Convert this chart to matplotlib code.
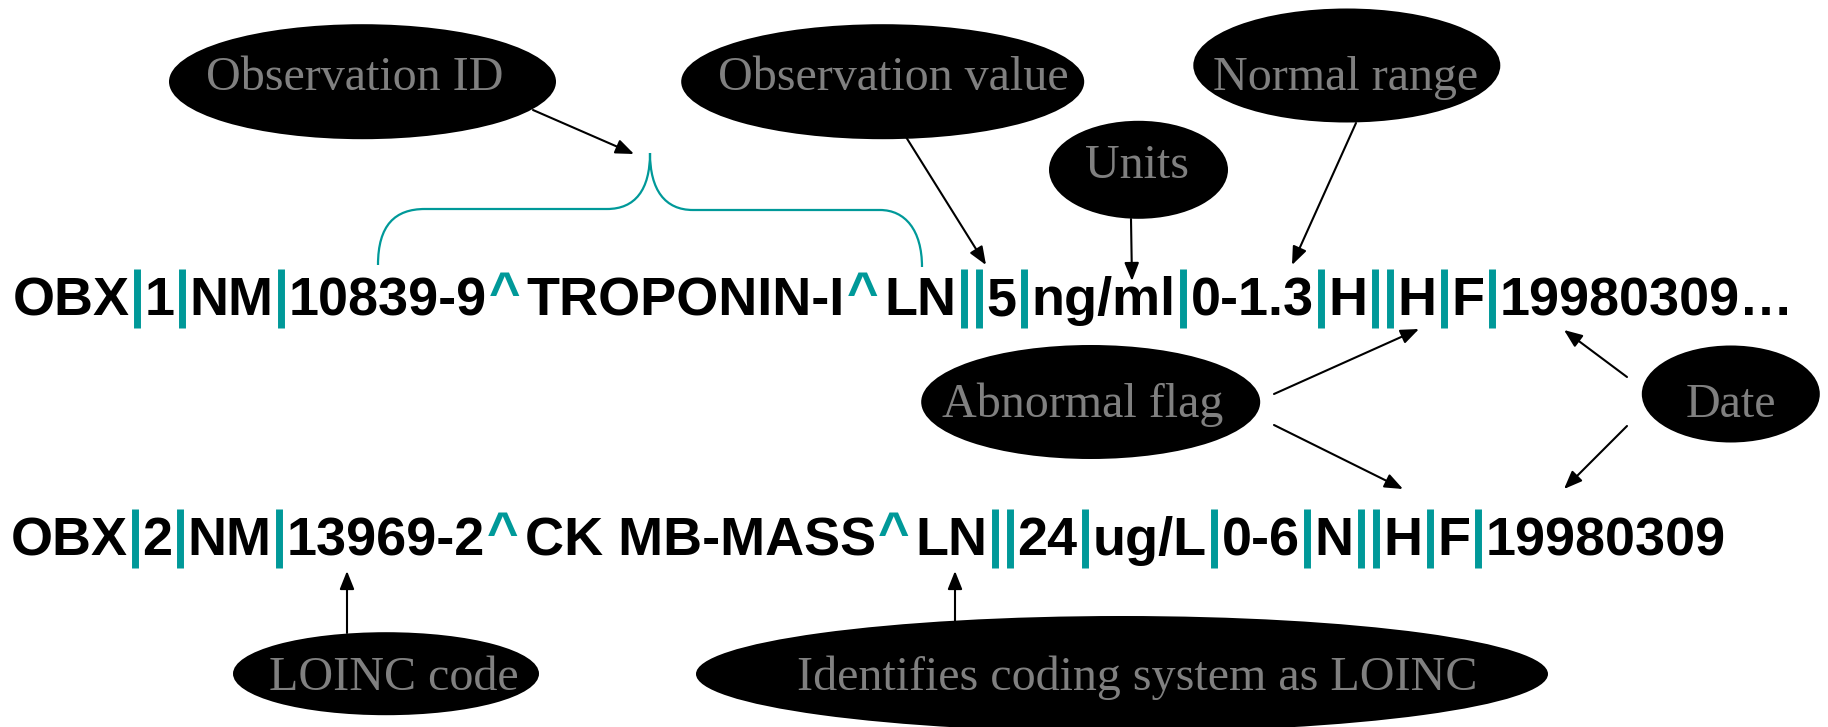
import matplotlib
matplotlib.use('Agg')
import matplotlib.pyplot as plt
from matplotlib.patches import Ellipse, PathPatch
from matplotlib.path import Path
from matplotlib.font_manager import FontProperties, findfont
from matplotlib.ft2font import FT2Font

# the two HL7 OBX segments
rows = [
    'OBX|1|NM|10839-9^TROPONIN-I^LN||5|ng/ml|0-1.3|H||H|F|19980309\u2026',
    'OBX|2|NM|13969-2^CK MB-MASS^LN||24|ug/L|0-6|N||H|F|19980309',
]
row_x = [12.7, 10.4]
row_base = [315, 555]

# callout bubbles
labels = ['Observation ID', 'Observation value', 'Normal range', 'Units',
          'Abnormal flag', 'Date', 'LOINC code', 'Identifies coding system as LOINC']
bubble_xy = [(362.5, 81.7), (882.7, 81.7), (1346.8, 65.5), (1138.5, 169.8),
             (1090.7, 402), (1730.8, 394), (386, 673.7), (1122, 674)]
bubble_wh = [(387, 115), (403, 115), (307, 114), (179, 98),
             (339, 114), (178, 97), (306, 83), (852, 116)]
label_xy = [(354.4, 90), (893.3, 90), (1346, 90), (1137.3, 178.3),
            (1083, 416.7), (1730.5, 416.7), (393.8, 690), (1137.4, 690)]

# arrows: tail -> head
arrow_from = [(533, 110), (906, 137), (1131, 219), (1356, 123), (1274, 394),
              (1274, 425), (1627, 377), (1627, 426), (347, 633), (955, 621)]
arrow_to = [(634, 154), (986, 265), (1132, 281), (1292, 265), (1419, 329),
            (1403, 489), (1564, 330), (1564, 489), (347, 571), (955, 571)]

TEAL = '#009999'
GRAY = '#808080'
ROW_PX = 54.0            # em size in pixels
ROW_PT = ROW_PX * 0.72
LBL_PT = 48.0 * 0.72

fig = plt.figure(figsize=(18.28, 7.27), dpi=100)
ax = fig.add_axes([0, 0, 1, 1])
ax.set_xlim(0, 1828)
ax.set_ylim(727, 0)
ax.axis('off')

row_font = FontProperties(family='Liberation Sans', weight='bold', size=ROW_PT)
ft = FT2Font(findfont(row_font))
ft.set_size(ROW_PT, 72)


def advance(s):
    # advance width in pixels
    return sum(ft.load_char(ord(c)).linearHoriAdvance / 65536 for c in s) / 0.72


pipe_w = 0.278 * ROW_PX
caret_w = 0.74 * ROW_PX

for s, x, base in zip(rows, row_x, row_base):
    run = ''
    for ch in s + '\0':
        if ch in '|^\0':
            if run:
                ax.text(x, base, run, fontproperties=row_font, ha='left',
                        va='baseline', color='black')
                x += advance(run)
                run = ''
            if ch == '|':
                ax.plot([x + pipe_w / 2] * 2, [base - 46, base + 13], color=TEAL,
                        lw=5, solid_capstyle='butt')
                x += pipe_w
            elif ch == '^':
                ax.text(x + caret_w / 2 - 2, base - 5, '^', fontproperties=row_font,
                        ha='center', va='baseline', color=TEAL)
                x += caret_w
        else:
            run += ch

# brace over the observation identifier
verts = [(378, 265), (378, 225), (395, 209), (425, 209),
         (607, 209),
         (635, 209), (650, 190), (650, 153),
         (650, 190), (665, 210), (693, 210),
         (880, 210),
         (905, 210), (922, 230), (922, 267)]
codes = [Path.MOVETO, Path.CURVE4, Path.CURVE4, Path.CURVE4,
         Path.LINETO,
         Path.CURVE4, Path.CURVE4, Path.CURVE4,
         Path.CURVE4, Path.CURVE4, Path.CURVE4,
         Path.LINETO,
         Path.CURVE4, Path.CURVE4, Path.CURVE4]
ax.add_patch(PathPatch(Path(verts, codes), fill=False, edgecolor=TEAL, lw=1.6))

for (cx, cy), (w, h) in zip(bubble_xy, bubble_wh):
    ax.add_patch(Ellipse((cx, cy), w, h, facecolor='black', edgecolor='none'))

for txt, (tx, ty) in zip(labels, label_xy):
    ax.text(tx, ty, txt, family='Liberation Serif', size=LBL_PT, color=GRAY,
            ha='center', va='baseline')

for a, b in zip(arrow_from, arrow_to):
    ax.annotate('', xy=b, xytext=a,
                arrowprops=dict(arrowstyle='-|>,head_length=0.55,head_width=0.22',
                                mutation_scale=20, color='black', lw=1.5,
                                shrinkA=0, shrinkB=0))

fig.savefig('out.png', dpi=100, facecolor='white')
